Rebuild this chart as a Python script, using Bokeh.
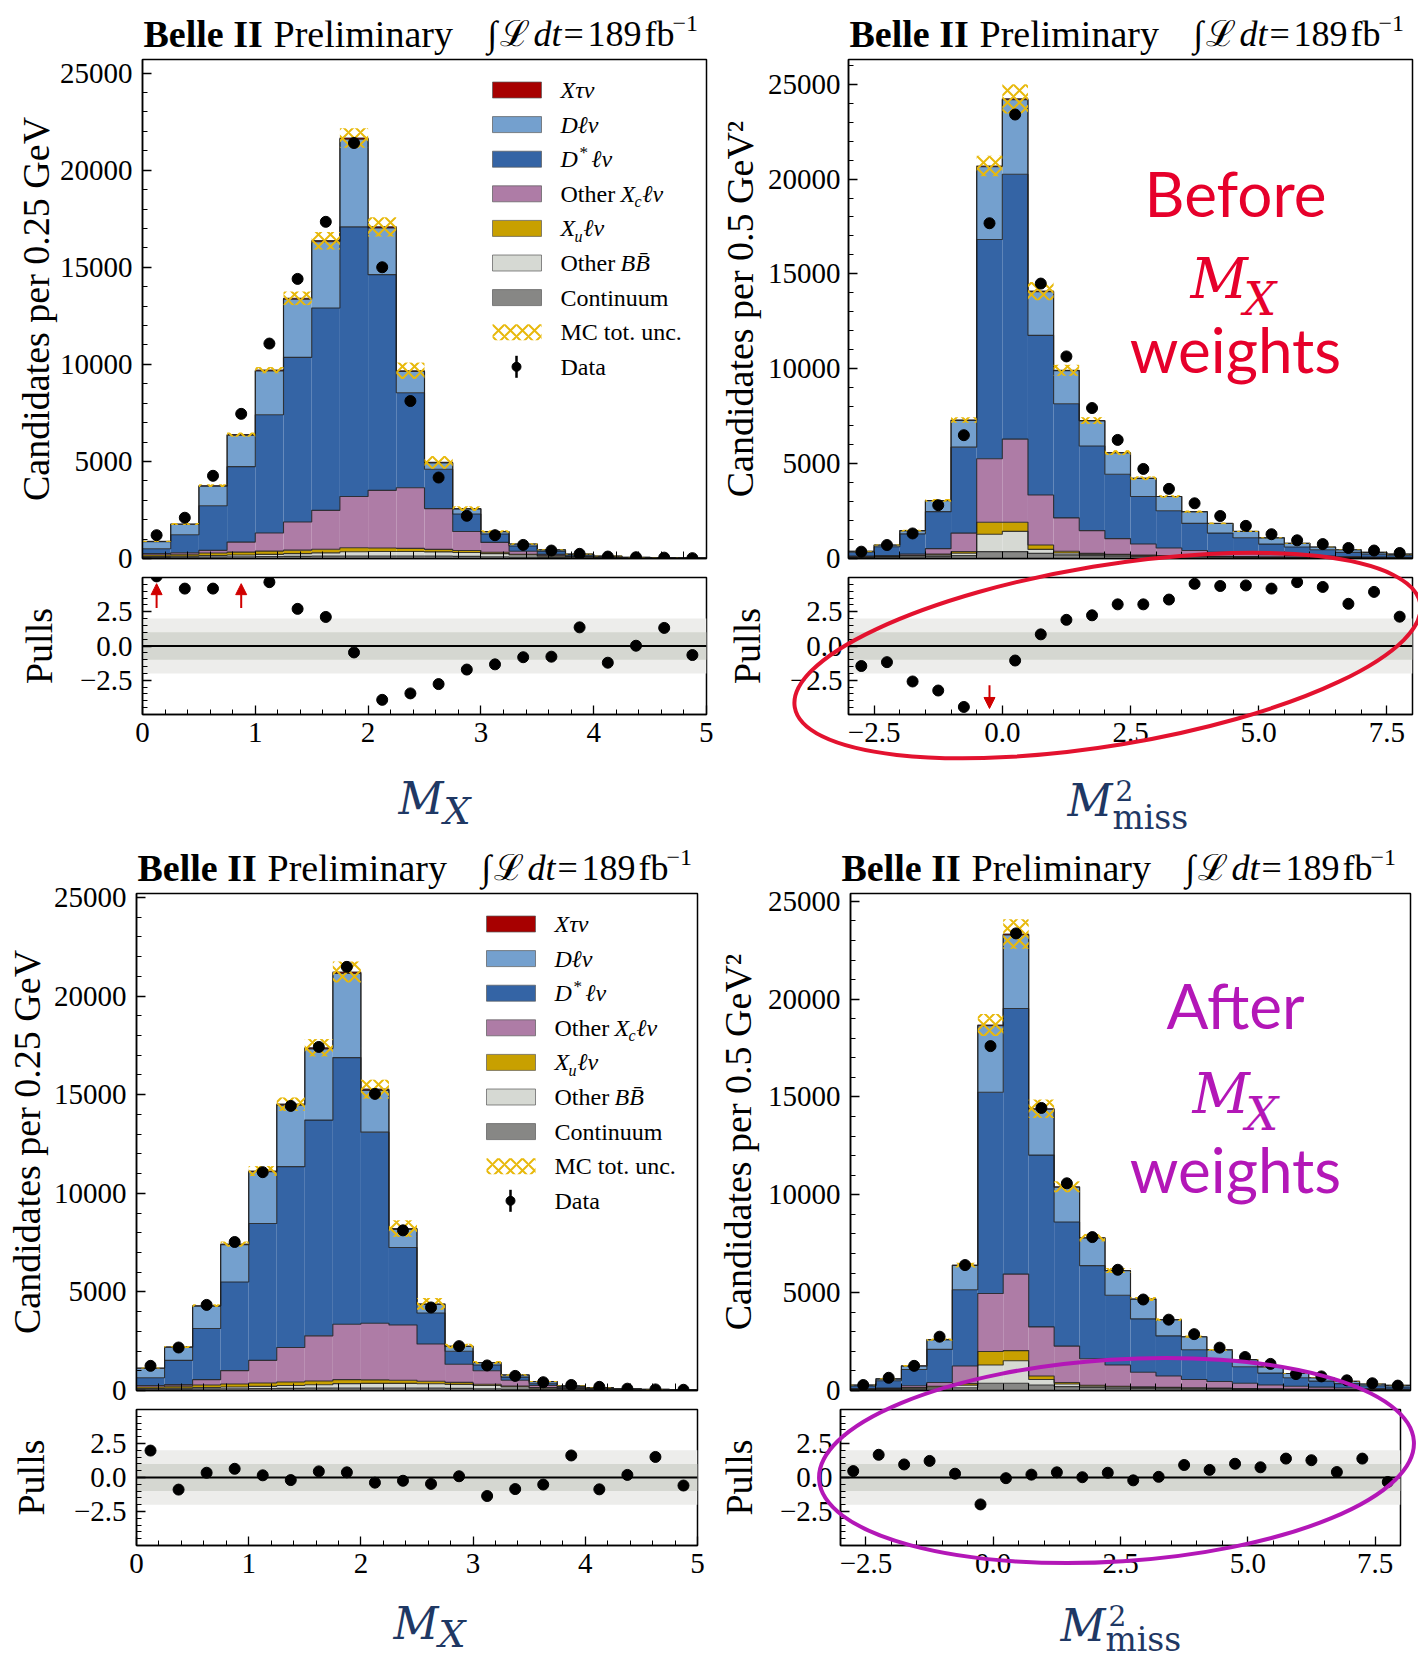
import numpy as np
from bokeh.plotting import figure
from bokeh.layouts import column, row
from bokeh.models import Range1d, FixedTicker, BoxAnnotation, Span, Arrow, NormalHead
from bokeh.core.properties import value
from bokeh.embed import file_html
from bokeh.resources import INLINE

# ---------------- data ----------------
mx_edges = [0.0, 0.25, 0.5, 0.75, 1.0, 1.25, 1.5, 1.75, 2.0, 2.25, 2.5,
            2.75, 3.0, 3.25, 3.5, 3.75, 4.0, 4.25, 4.5, 4.75, 5.0]
mm2_edges = [-3.0, -2.5, -2.0, -1.5, -1.0, -0.5, 0.0, 0.5, 1.0, 1.5, 2.0, 2.5,
             3.0, 3.5, 4.0, 4.5, 5.0, 5.5, 6.0, 6.5, 7.0, 7.5, 8.0]

# stack order (bottom -> top)
component_names = ["Continuum", "Other BB", "Xu l nu", "Other Xc l nu", "D* l nu", "D l nu", "X tau nu"]
component_colors = ["#878785", "#d6d9d3", "#c8a000", "#ae7ca6", "#3464a5", "#74a0ce", "#a70000"]

# --- M_X, before M_X weights ---
mxb_cont = [60, 70, 80, 90, 100, 110, 120, 130, 130, 130, 120, 110, 90, 70, 50, 35, 25, 15, 10, 5]
mxb_bb = [40, 50, 70, 90, 110, 140, 170, 220, 230, 230, 220, 200, 160, 110, 70, 45, 30, 20, 10, 5]
mxb_xu = [80, 100, 130, 150, 170, 180, 190, 200, 180, 160, 130, 100, 70, 40, 25, 15, 10, 5, 5, 3]
mxb_xc = [70, 80, 140, 515, 930, 1450, 2000, 2640, 2970, 3120, 2100, 980, 510, 155, 65, 25, 10, 5, 3, 2]
mxb_dstar = [250, 920, 2300, 3885, 6090, 8480, 10420, 13890, 11110, 4900, 2030, 900, 430, 265, 170, 70, 25, 10, 2, 2]
mxb_d = [370, 545, 1010, 1620, 2260, 2990, 3410, 4510, 2400, 1090, 320, 260, 120, 105, 67, 33, 29, 4, 0, 3]
mxb_tau = [10, 15, 20, 30, 40, 50, 60, 70, 60, 40, 30, 20, 10, 5, 3, 2, 1, 1, 0, 0]
mxb_unc = [30, 50, 70, 110, 160, 350, 450, 500, 500, 420, 330, 120, 70, 40, 25, 15, 10, 5, 3, 2]
mxb_data = [1200, 2100, 4260, 7450, 11070, 14400, 17340, 21400, 15000, 8110, 4170, 2200, 1200, 700, 410, 240, 100, 65, 45, 18]
mxb_pull = [5.08, 4.19, 4.19, 6.5, 4.66, 2.71, 2.12, -0.47, -3.93, -3.46, -2.78, -1.72, -1.34, -0.82, -0.78, 1.36, -1.22, 0.02, 1.32, -0.66]

# --- M2_miss, before M_X weights ---
mmb_cont = [60, 70, 80, 100, 150, 360, 360, 270, 190, 150, 120, 100, 90, 80, 70, 60, 50, 45, 40, 35, 30, 25]
mmb_bb = [20, 30, 50, 80, 130, 920, 1070, 210, 100, 70, 60, 50, 40, 35, 30, 25, 20, 15, 12, 10, 8, 6]
mmb_xu = [10, 15, 30, 50, 80, 630, 480, 230, 90, 50, 40, 35, 30, 25, 20, 15, 12, 10, 8, 6, 5, 4]
mmb_xc = [40, 35, 70, 290, 980, 3350, 4380, 2640, 1760, 1200, 830, 580, 395, 280, 205, 150, 118, 90, 70, 49, 37, 25]
mmb_dstar = [200, 470, 1070, 1950, 4530, 11550, 13960, 8410, 6020, 4460, 3390, 2505, 1965, 1430, 1015, 840, 560, 450, 330, 225, 150, 110]
mmb_d = [50, 90, 165, 580, 1410, 3840, 3930, 2300, 1740, 1325, 1130, 952, 744, 615, 506, 337, 328, 188, 149, 134, 94, 60]
mmb_tau = [0, 0, 5, 10, 20, 40, 50, 30, 20, 15, 10, 8, 6, 5, 4, 3, 2, 2, 1, 1, 1, 0]
mmb_unc = [20, 30, 50, 70, 140, 540, 770, 480, 290, 180, 130, 100, 70, 60, 45, 35, 25, 20, 15, 12, 10, 8]
mmb_data = [360, 710, 1320, 2810, 6500, 17670, 23400, 14490, 10650, 7930, 6250, 4720, 3670, 2910, 2240, 1720, 1280, 960, 760, 555, 420, 290]
mmb_pull = [-1.46, -1.18, -2.59, -3.25, -4.45, -6.5, -1.06, 0.85, 1.91, 2.24, 3.04, 3.04, 3.39, 4.54, 4.38, 4.42, 4.19, 4.66, 4.31, 3.08, 3.95, 2.14]

# --- M_X, after M_X weights ---
mxa_cont = [60, 70, 80, 90, 100, 110, 120, 130, 130, 130, 120, 110, 90, 70, 50, 35, 25, 15, 10, 5]
mxa_bb = [40, 50, 70, 90, 110, 140, 170, 220, 230, 230, 220, 200, 160, 110, 70, 45, 30, 20, 10, 5]
mxa_xu = [80, 100, 130, 150, 170, 180, 190, 200, 180, 160, 130, 100, 70, 40, 25, 15, 10, 5, 5, 3]
mxa_xc = [70, 80, 270, 680, 1150, 1750, 2290, 2810, 2870, 2800, 1890, 920, 680, 300, 115, 55, 35, 20, 15, 12]
mxa_dstar = [400, 1230, 2590, 4490, 6940, 9170, 10940, 13520, 9690, 3930, 1570, 660, 290, 160, 110, 50, 20, 10, 5, 3]
mxa_d = [480, 665, 1140, 1890, 2620, 3120, 3610, 4270, 2120, 920, 430, 240, 120, 105, 87, 38, 29, 19, 10, 7]
mxa_tau = [10, 15, 20, 30, 40, 50, 60, 70, 60, 40, 30, 20, 10, 5, 3, 2, 1, 1, 0, 0]
mxa_unc = [30, 50, 70, 130, 250, 340, 440, 530, 480, 420, 300, 120, 70, 40, 25, 15, 10, 5, 3, 2]
mxa_data = [1250, 2180, 4340, 7530, 11070, 14430, 17420, 21480, 15040, 8120, 4210, 2250, 1270, 740, 420, 280, 185, 92, 55, 37]
mxa_pull = [1.98, -0.89, 0.35, 0.64, 0.16, -0.19, 0.45, 0.38, -0.38, -0.24, -0.47, 0.09, -1.36, -0.85, -0.52, 1.62, -0.87, 0.19, 1.51, -0.59]

# --- M2_miss, after M_X weights ---
mma_cont = [50, 60, 70, 90, 140, 370, 370, 280, 200, 150, 120, 100, 90, 80, 70, 60, 50, 45, 40, 35, 30, 25]
mma_bb = [20, 30, 50, 80, 130, 930, 1150, 280, 135, 70, 60, 50, 40, 35, 30, 25, 20, 15, 12, 10, 8, 6]
mma_xu = [10, 15, 30, 50, 80, 690, 520, 180, 75, 50, 40, 35, 30, 25, 20, 15, 12, 10, 8, 6, 5, 4]
mma_xc = [10, 25, 90, 190, 900, 2970, 3910, 2510, 1860, 1350, 1080, 745, 580, 420, 340, 270, 198, 150, 110, 79, 57, 45]
mma_dstar = [140, 370, 830, 1690, 3900, 10280, 13570, 8780, 6340, 4760, 3570, 2730, 2050, 1520, 1120, 840, 610, 430, 310, 220, 140, 100]
mma_d = [50, 95, 185, 490, 1240, 3400, 3760, 2340, 1780, 1415, 1250, 1012, 824, 665, 496, 367, 318, 218, 169, 114, 94, 80]
mma_tau = [0, 0, 5, 10, 20, 40, 50, 30, 20, 15, 10, 8, 6, 5, 4, 3, 2, 2, 1, 1, 1, 0]
mma_unc = [15, 25, 40, 60, 120, 560, 750, 470, 280, 190, 130, 100, 70, 55, 45, 35, 25, 20, 15, 12, 10, 8]
mma_data = [280, 650, 1260, 2750, 6410, 17600, 23360, 14440, 10590, 7840, 6170, 4650, 3620, 2880, 2190, 1710, 1360, 840, 720, 520, 370, 250]
mma_pull = [0.47, 1.67, 0.96, 1.22, 0.28, -1.98, -0.05, 0.21, 0.38, 0.02, 0.35, -0.21, 0.05, 0.92, 0.56, 1.01, 0.75, 1.39, 1.27, 0.4, 1.39, -0.33]

# tick labels
mx_ticks = [0, 1, 2, 3, 4, 5]
mm2_ticks = [-2.5, 0, 2.5, 5, 7.5]
mm2_tick_labels = {-2.5: "\u22122.5", 0: "0.0", 2.5: "2.5", 5: "5.0", 7.5: "7.5"}
main_y_ticks = [0, 5000, 10000, 15000, 20000, 25000]
pull_y_ticks = [-2.5, 0, 2.5]
pull_y_labels = {-2.5: "\u22122.5", 0: "0.0", 2.5: "2.5"}

# ---------------- style ----------------
SERIF = "Liberation Serif"
LATO = "Lato"
MFONT = "DejaVu Serif"
HATCH = "#e8b90c"
ARROW_RED = "#d00000"
RED_TXT = "#e6002b"
MAG = "#b317b7"
NAVY = "#1f3864"

mx_minor = [k * 0.2 for k in range(0, 26) if k % 5 != 0]
mm2_minor = [-3 + 0.5 * k for k in range(0, 23) if (-3 + 0.5 * k) not in mm2_ticks]
main_y_minor = [k * 1000 for k in range(0, 27) if k % 5 != 0]
pull_y_minor = [-5 + 0.5 * k for k in range(0, 21) if (-5 + 0.5 * k) not in pull_y_ticks]


def style_axes(p, lab_so, ax_so):
    for ax in p.axis:
        ax.major_tick_in = 9
        ax.major_tick_out = 0
        ax.minor_tick_in = 5
        ax.minor_tick_out = 0
        ax.axis_line_color = "black"
        ax.axis_line_width = 1.5
        ax.major_tick_line_width = 1.3
        ax.minor_tick_line_width = 1.0
        ax.major_label_text_font = SERIF
        ax.major_label_text_font_size = "29px"
        ax.major_label_text_color = "black"
        ax.axis_label_text_font = SERIF
        ax.axis_label_text_font_size = "38px"
        ax.axis_label_text_font_style = "normal"
        ax.axis_label_text_color = "black"
    p.yaxis.major_label_standoff = lab_so
    p.yaxis.axis_label_standoff = ax_so
    p.grid.visible = False
    p.outline_line_color = "black"
    p.outline_line_width = 1.5


def new_fig(xr, yr, lb, rb, tb, bb, fw, fh):
    return figure(frame_width=fw, frame_height=fh, min_border_left=lb, min_border_right=rb,
                  min_border_top=tb, min_border_bottom=bb, x_range=Range1d(*xr), y_range=Range1d(*yr),
                  toolbar_location=None, output_backend="svg", title=None)


def main_panel(edges, comps, unc, data, xr, ymax, xt, xmt, ylab, geo, lab_so, ax_so):
    lb, rb, tb, bb, fw, fh = geo
    p = new_fig(xr, (0, ymax), lb, rb, tb, bb, fw, fh)
    left = np.array(edges[:-1], dtype=float)
    right = np.array(edges[1:], dtype=float)
    bottom = np.zeros(len(left))
    for vals, col in zip(comps, component_colors):
        top = bottom + np.array(vals, dtype=float)
        p.quad(left=left, right=right, bottom=bottom, top=top, fill_color=col, line_color=None)
        bottom = top
    cum = np.zeros(len(left))
    for vals in comps:
        cum = cum + np.array(vals, dtype=float)
        p.step(x=list(edges), y=list(np.append(cum, cum[-1])), mode="after",
               line_color="#1e1e1e", line_width=1.1, line_alpha=0.85)
    u = np.array(unc, dtype=float)
    p.quad(left=left, right=right, bottom=cum - u, top=cum + u, fill_alpha=0, line_alpha=0,
           hatch_pattern="x", hatch_color=HATCH, hatch_scale=12, hatch_weight=2.0, hatch_alpha=1)
    centers = (left + right) / 2
    p.scatter(centers, data, size=11, color="black")
    style_axes(p, lab_so, ax_so)
    p.yaxis.ticker = FixedTicker(ticks=main_y_ticks, minor_ticks=main_y_minor)
    p.yaxis.axis_label = ylab
    # bottom axis of the upper panel: tick marks only (no labels)
    p.xaxis.ticker = FixedTicker(ticks=[], minor_ticks=sorted(list(xt) + list(xmt)))
    p.xaxis.minor_tick_in = 7
    return p


def pull_panel(edges, pulls, xr, xt, xmt, xlabels, geo, lab_so, ax_so):
    lb, rb, tb, bb, fw, fh = geo
    p = new_fig(xr, (-5, 5), lb, rb, tb, bb, fw, fh)
    p.add_layout(BoxAnnotation(bottom=-2, top=2, fill_color="#ededeb", fill_alpha=1, line_color=None, level="underlay"))
    p.add_layout(BoxAnnotation(bottom=-1, top=1, fill_color="#d5d7d1", fill_alpha=1, line_color=None, level="underlay"))
    p.add_layout(Span(location=0, dimension="width", line_color="black", line_width=2))
    left = np.array(edges[:-1], dtype=float)
    right = np.array(edges[1:], dtype=float)
    centers = (left + right) / 2
    p.scatter(centers, pulls, size=11, color="black")
    for c, v in zip(centers, pulls):
        if v > 5:
            p.add_layout(Arrow(end=NormalHead(size=11, fill_color=ARROW_RED, line_color=ARROW_RED),
                               x_start=c, y_start=2.78, x_end=c, y_end=4.55,
                               line_color=ARROW_RED, line_width=2))
        elif v < -5:
            p.add_layout(Arrow(end=NormalHead(size=11, fill_color=ARROW_RED, line_color=ARROW_RED),
                               x_start=c, y_start=-2.87, x_end=c, y_end=-4.56,
                               line_color=ARROW_RED, line_width=2))
    style_axes(p, lab_so, ax_so)
    p.yaxis.ticker = FixedTicker(ticks=pull_y_ticks, minor_ticks=pull_y_minor)
    p.yaxis.major_label_overrides = pull_y_labels
    p.yaxis.axis_label = "Pulls"
    p.xaxis.ticker = FixedTicker(ticks=xt, minor_ticks=xmt)
    if xlabels:
        p.xaxis.major_label_overrides = xlabels
    p.xaxis.major_label_standoff = 8
    return p


# geometry: (left border, right border, top border, bottom border, frame w, frame h)
G_TLm = (142, 7, 59, 18, 564, 499)
G_TRm = (135, 6, 59, 18, 564, 499)
G_TLp = (142, 7, 1, 124, 564, 137)
G_TRp = (135, 6, 1, 124, 564, 137)
G_BLm = (136, 16, 55, 18, 561, 497)
G_BRm = (127, 18, 55, 18, 560, 497)
G_BLp = (136, 16, 1, 115, 561, 136)
G_BRp = (127, 18, 1, 115, 560, 136)

tl_main = main_panel(mx_edges, [mxb_cont, mxb_bb, mxb_xu, mxb_xc, mxb_dstar, mxb_d, mxb_tau], mxb_unc, mxb_data,
                     (0, 5), 25700, mx_ticks, mx_minor, "Candidates per 0.25 GeV", G_TLm, 10, 0)
tr_main = main_panel(mm2_edges, [mmb_cont, mmb_bb, mmb_xu, mmb_xc, mmb_dstar, mmb_d, mmb_tau], mmb_unc, mmb_data,
                     (-3, 8), 26300, mm2_ticks, mm2_minor, "Candidates per 0.5 GeV\u00b2", G_TRm, 8, 4)
tl_pull = pull_panel(mx_edges, mxb_pull, (0, 5), mx_ticks, mx_minor, None, G_TLp, 10, 17)
tr_pull = pull_panel(mm2_edges, mmb_pull, (-3, 8), mm2_ticks, mm2_minor, mm2_tick_labels, G_TRp, 6, 19)
bl_main = main_panel(mx_edges, [mxa_cont, mxa_bb, mxa_xu, mxa_xc, mxa_dstar, mxa_d, mxa_tau], mxa_unc, mxa_data,
                     (0, 5), 25200, mx_ticks, mx_minor, "Candidates per 0.25 GeV", G_BLm, 10, 3)
br_main = main_panel(mm2_edges, [mma_cont, mma_bb, mma_xu, mma_xc, mma_dstar, mma_d, mma_tau], mma_unc, mma_data,
                     (-3, 8), 25400, mm2_ticks, mm2_minor, "Candidates per 0.5 GeV\u00b2", G_BRm, 10, 6)
bl_pull = pull_panel(mx_edges, mxa_pull, (0, 5), mx_ticks, mx_minor, None, G_BLp, 10, 19)
br_pull = pull_panel(mm2_edges, mma_pull, (-3, 8), mm2_ticks, mm2_minor, mm2_tick_labels, G_BRp, 8, 17)

grid = column(row(tl_main, tr_main), row(tl_pull, tr_pull), row(bl_main, br_main), row(bl_pull, br_pull))

# ---------------- overlay (page coordinates, origin top-left) ----------------
W, H = 1418, 1660
overlay = figure(width=W, height=H, x_range=Range1d(0, W), y_range=Range1d(0, H), min_border=0,
                 toolbar_location=None, x_axis_location=None, y_axis_location=None, title=None,
                 outline_line_color=None, background_fill_alpha=0, border_fill_alpha=0,
                 output_backend="svg",
                 styles={"margin-top": f"-{H}px", "position": "relative", "z-index": "10",
                         "pointer-events": "none"})
overlay.grid.visible = False

# distance between alphabetic baseline and the anchor used by the renderer (in em)
KSHIFT = {SERIF: 0.335, LATO: 0.39, MFONT: 0.346}


def ox(X):
    return X


def oy(Y):
    return H - Y


def otext(X, Y, s, size, style="normal", font=SERIF, color="black", align="left"):
    Yc = Y - KSHIFT[font] * size
    overlay.text(x=[ox(X)], y=[oy(Yc)], text=[s], text_font=value(font), text_font_size=value(f"{size}px"),
                 text_font_style=value(style), text_color=color, text_align=value(align),
                 text_baseline=value("alphabetic"))


def title_at(L, T):
    b = T - 13
    otext(L + 1, b, "Belle II", 38, "bold")
    otext(L + 131, b, "Preliminary", 38)
    otext(L + 345, b, "\u222b", 36, "italic")
    otext(L + 357, b, "\u2112", 36)
    otext(L + 391, b, "dt", 36, "italic")
    otext(L + 421, b, "=", 36)
    otext(L + 445, b, "189", 36)
    otext(L + 502, b, "fb", 36)
    otext(L + 530, b - 15, "\u22121", 24)


legend_rows = [
    ("box", component_colors[6], [("X\u03c4\u03bd", 0, 0, 24, "italic")]),
    ("box", component_colors[5], [("D\u2113\u03bd", 0, 0, 24, "italic")]),
    ("box", component_colors[4], [("D", 0, 0, 24, "italic"), ("*", 19, -9, 17, "normal"), ("\u2113\u03bd", 31, 0, 24, "italic")]),
    ("box", component_colors[3], [("Other", 0, 0, 24, "normal"), ("X", 60, 0, 24, "italic"), ("c", 74, 5, 16, "italic"), ("\u2113\u03bd", 82, 0, 24, "italic")]),
    ("box", component_colors[2], [("X", 0, 0, 24, "italic"), ("u", 14, 5, 16, "italic"), ("\u2113\u03bd", 23, 0, 24, "italic")]),
    ("box", component_colors[1], [("Other", 0, 0, 24, "normal"), ("BB\u0304", 60, 0, 24, "italic")]),
    ("box", component_colors[0], [("Continuum", 0, 0, 24, "normal")]),
    ("hatch", HATCH, [("MC tot. unc.", 0, 0, 24, "normal")]),
    ("data", "black", [("Data", 0, 0, 24, "normal")]),
]


def legend_at(L, T):
    for i, (kind, col, pieces) in enumerate(legend_rows):
        yc = T + 30.5 + 34.6 * i
        bx0, bx1 = L + 350, L + 399
        if kind == "box":
            overlay.quad(left=[ox(bx0)], right=[ox(bx1)], bottom=[oy(yc + 8)], top=[oy(yc - 8)],
                         fill_color=col, line_color="#5a5a5a", line_alpha=0.7, line_width=1)
        elif kind == "hatch":
            overlay.quad(left=[ox(bx0)], right=[ox(bx1)], bottom=[oy(yc + 8)], top=[oy(yc - 8)],
                         fill_alpha=0, line_alpha=0, hatch_pattern="x", hatch_color=col,
                         hatch_scale=12, hatch_weight=2.0)
        else:
            overlay.segment(x0=[ox(L + 374)], y0=[oy(yc - 11)], x1=[ox(L + 374)], y1=[oy(yc + 11)],
                            line_color="black", line_width=2.5)
            overlay.scatter([ox(L + 374)], [oy(yc)], size=9, color="black")
        for (s, dx, dy, size, style) in pieces:
            otext(L + 418 + dx, yc + 8 + dy, s, size, style)


# frame top-left corners in page coordinates
FR = {"tl": (142, 59), "tr": (848, 59), "bl": (136, 893), "br": (840, 893)}
for k in FR:
    title_at(*FR[k])
legend_at(*FR["tl"])
legend_at(*FR["bl"])

# annotations
otext(1235, 217, "Before", 62, font=LATO, color=RED_TXT, align="center")
otext(1190, 297, "M", 56, "italic", font=MFONT, color=RED_TXT)
otext(1243, 314, "X", 46, "italic", font=MFONT, color=RED_TXT)
otext(1235, 373, "weights", 62, font=LATO, color=RED_TXT, align="center")

otext(1235, 1029, "After", 62, font=LATO, color=MAG, align="center")
otext(1192, 1112, "M", 56, "italic", font=MFONT, color=MAG)
otext(1245, 1129, "X", 46, "italic", font=MFONT, color=MAG)
otext(1235, 1193, "weights", 62, font=LATO, color=MAG, align="center")

# variable labels under the pull panels
otext(398, 813, "M", 44, "italic", font=MFONT, color=NAVY)
otext(443, 824, "X", 38, "italic", font=MFONT, color=NAVY)
otext(1067, 815, "M", 44, "italic", font=MFONT, color=NAVY)
otext(1115, 800, "2", 28, font=MFONT, color=NAVY)
otext(1112, 828, "miss", 33, font=MFONT, color=NAVY)
otext(393, 1638, "M", 44, "italic", font=MFONT, color=NAVY)
otext(438, 1647, "X", 38, "italic", font=MFONT, color=NAVY)
otext(1060, 1640, "M", 44, "italic", font=MFONT, color=NAVY)
otext(1108, 1625, "2", 28, font=MFONT, color=NAVY)
otext(1105, 1650, "miss", 33, font=MFONT, color=NAVY)

# highlighting ellipses (center, semi-axes, angle in degrees), page coordinates
red_ellipse = dict(cx=1107, cy=655, a=317, b=90, angle=9.4)
mag_ellipse = dict(cx=1116, cy=1460, a=298, b=101, angle=3.7)
for e, col in ((red_ellipse, "#e3122f"), (mag_ellipse, MAG)):
    overlay.ellipse(x=[ox(e["cx"])], y=[oy(e["cy"])], width=[2 * e["a"]], height=[2 * e["b"]],
                    angle=[np.radians(e["angle"])], fill_alpha=0, line_color=col, line_width=4)

page = column(grid, overlay)
open("out.html", "w").write(file_html(page, INLINE))
